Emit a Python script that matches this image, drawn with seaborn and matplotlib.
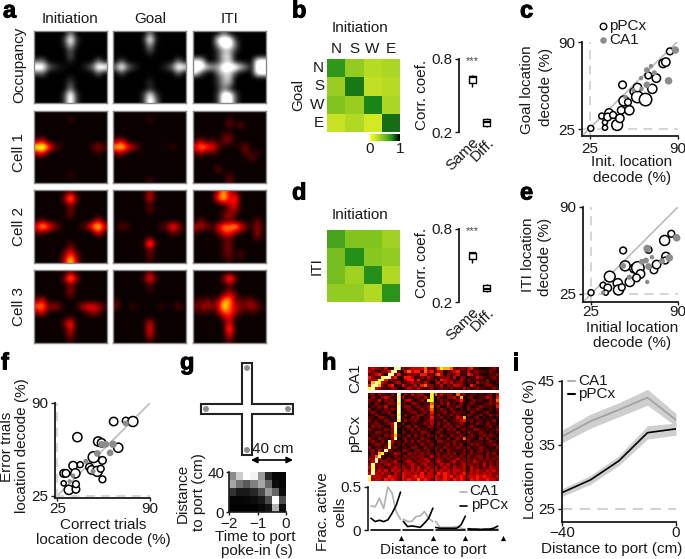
import numpy as np
import pandas as pd
import matplotlib
matplotlib.use("Agg")
import matplotlib.pyplot as plt
import matplotlib.patheffects as pe
from matplotlib.colors import LinearSegmentedColormap
import seaborn as sns

W, H = 685, 559

# panel a, spatial maps (digit = intensity level)
occ_init = ["0000005000000", "0000039300000", "0000027200000", "0000004000000", "0000004000000", "4500002000050",
            "9953210013599", "4500000000050", "0000002000000", "0000004000000", "0000005000000", "0000039300000", "0000039300000"]
occ_goal = ["0000005000000", "0000029200000", "0000006000000", "0000004000000", "0000001000000", "0400000000050",
            "5953100013598", "0400000000050", "0000001000000", "0000003000000", "0000002000000", "0000038300000", "0000039500000"]
occ_iti = ["0000050000000", "0000899300000", "0000699500000", "0000366300000", "0000377000000", "8800367200099",
           "9976699975099", "8400577400099", "0000367000000", "0000366000000", "0000252000000", "0000399400000", "0000399400000"]
c1_init = ["0000000000000", "0000002000000", "0000000000000", "0000000000000", "0000000000000", "3500000000000",
           "8973200000242", "4600000000020", "0000000000000", "0000000000000", "0000000000000", "0000002000000", "0000000000000"]
c1_goal = ["0000000000000", "0000002000000", "0000000000000", "0000000000000", "0000000000000", "3500000000000",
           "7864200000200", "3400000000000", "0000000000000", "0000000000000", "0000000000000", "0000000000000", "0000002000000"]
c1_iti = ["0000000000000", "0000002000000", "0000003030000", "0000000000000", "0000023000000", "2403033000000",
          "5765300023000", "2403000003020", "0000000000300", "0000000000000", "0000300000000", "0000002000000", "0000003000000"]
c2_init = ["0000003000000", "0000038300000", "0000004000000", "0000003000000", "0000003000000", "0300000000050",
           "5864200023785", "2300000000060", "0000000000000", "0000002000000", "0000004000000", "0000036300000", "0000048400000"]
c2_goal = ["0000004000000", "0000005000000", "0000002000000", "0000003000000", "0000000000000", "0000000000000",
           "0320000023640", "0000000000320", "0000001000000", "0000008000000", "0000003000000", "0000003000000", "0000002000000"]
c2_iti = ["0000474300000", "0000684600000", "0000024500000", "0000003400000", "0000034200000", "0300003000030",
          "4432476853040", "2000356320040", "0000023000030", "0000023000000", "0000023000000", "0000023030000", "0000002000000"]
c3_init = ["0000003000000", "0000038400000", "0000003000000", "0000004000000", "0000003000000", "3500000000000",
           "6734300045542", "3500000002430", "0000002000000", "0000036000000", "0000005000000", "0000004000000", "0000002000000"]
c3_goal = ["0000003000000", "0000026200000", "0000002000000", "0000002000000", "0000000000000", "2000000000000",
           "3002000020030", "0000000000000", "0000001000000", "0000005000000", "0000005000000", "0000005000000", "0000002000000"]
c3_iti = ["0000000000000", "0000037300000", "0000003000000", "0000003000000", "0000035300000", "2232377323300",
          "3343486433431", "1220366421210", "0000035000000", "0000005000000", "0000007000000", "0000005000000", "0000003000000"]

# panels b, d: location correlation
ports = ["N", "S", "W", "E"]
corr_goal = [[0.68, 0.38, 0.26, 0.30], [0.36, 0.78, 0.22, 0.26], [0.44, 0.36, 0.76, 0.30], [0.20, 0.28, 0.16, 0.80]]
corr_iti = [[0.62, 0.44, 0.44, 0.34], [0.48, 0.72, 0.42, 0.38], [0.48, 0.34, 0.72, 0.28], [0.38, 0.38, 0.28, 0.70]]
same_goal = [0.57, 0.60, 0.655, 0.66, 0.665]
diff_goal = [0.24, 0.25, 0.28, 0.307, 0.315]
same_iti = [0.524, 0.557, 0.60, 0.605, 0.61]
diff_iti = [0.28, 0.289, 0.31, 0.338, 0.345]

# panel c
c_pc_x = [25.5, 36, 36, 33.6, 39, 38, 45, 47, 48, 42, 54, 50, 53, 49, 57, 60, 66, 60, 71, 68, 74, 79, 81, 84]
c_pc_y = [25.5, 26, 30, 34.7, 37, 34, 28, 33, 39, 35.5, 39, 46, 45, 58, 53, 49, 47, 56, 55, 65, 63, 74, 75, 83]
c_pc_n = [49, 36, 36, 49, 100, 81, 169, 100, 81, 64, 121, 144, 64, 81, 64, 196, 225, 100, 121, 64, 100, 100, 100, 64]
c_ca_x = [88, 83, 70, 67, 72.5, 62.7, 67, 63, 57, 51]
c_ca_y = [84, 61, 72, 69, 67, 63, 58, 55, 54, 49]
c_ca_n = [81, 81, 25, 49, 36, 25, 64, 25, 25, 25]

# panel e
e_pc_x = [25, 34, 37.5, 36, 39, 45, 45.5, 48, 54, 50.5, 57, 49, 60, 62, 59, 68, 72, 74, 80, 85, 81, 80.5]
e_pc_y = [26, 31.5, 29.5, 26, 38, 33, 28, 30, 34, 46, 44, 57.5, 44.5, 40, 37, 58, 43, 47, 65, 70, 53, 50]
e_pc_n = [49, 49, 81, 36, 169, 121, 144, 64, 121, 144, 100, 64, 225, 100, 81, 64, 81, 100, 144, 64, 100, 64]
e_ca_x = [89, 67, 83.5, 78, 70.5, 66, 63, 68, 67, 53.5, 49, 34]
e_ca_y = [67, 59, 52, 49.5, 52.5, 50, 49, 45.5, 34, 37.5, 46, 26]
e_ca_n = [81, 81, 81, 49, 25, 49, 49, 64, 25, 36, 49, 25]

# panel f
f_pc_x = [39, 64.5, 73, 78, 67.7, 53.6, 56, 50.4, 56.6, 56.6, 47.5, 49, 53, 55.4, 36, 41, 29.4, 31, 37.6, 29.4, 33, 38, 38]
f_pc_y = [66, 77, 77.6, 77, 58.6, 63, 62, 52, 49.7, 36.4, 45, 43, 42, 43.8, 46, 46.7, 40.6, 40.6, 40.6, 33.6, 29, 29.4, 33]
f_pc_n = [121, 100, 64, 144, 121, 121, 100, 169, 81, 64, 81, 100, 144, 64, 100, 49, 81, 81, 121, 36, 121, 81, 64]
f_ca_x = [73, 56, 59, 64, 62, 53, 45, 50, 33.6, 36]
f_ca_y = [75.6, 61, 61, 61, 55, 54.6, 49, 42, 35, 39]
f_ca_n = [49, 64, 64, 81, 64, 64, 36, 36, 25, 25]

# panel g
g_heat = [[0.55, 0.80, 1.00, 0.95, 0.60, 0.15, 0.02, 0.02],
          [0.65, 0.45, 0.35, 0.50, 0.65, 0.40, 0.05, 0.02],
          [0.20, 0.10, 0.10, 0.15, 0.30, 0.60, 0.40, 0.05],
          [0.02, 0.02, 0.03, 0.05, 0.10, 0.30, 1.00, 0.30],
          [0.00, 0.00, 0.00, 0.00, 0.03, 0.08, 0.70, 0.05]]

# panel h raster (digit = activity level)
raster_ca1 = ["3433241299423444463346877632334522111232",
              "4321335992146455264534412345224133221321",
              "2345319925223332552356413234125423111223",
              "5322899451255412324322333241331224321232",
              "4348952322135525123241543312423122213122",
              "2798431234223433242134243423322214223112",
              "5997324512532341563332413244321532123321",
              "8943222331124324222312322312143123221132"]
raster_pc = ["2313221319231423321862423316331221212314",
             "1321343229412123242813213342712311224315",
             "3224132319134212318812322123521232211326",
             "2132123328221332122621324121312321122324",
             "1223241219233123223723113223213112322215",
             "3122132329123212323612321321213223211213",
             "2321223119212331231512231232221321123112",
             "1132112328132123312423122313123212312323",
             "2213321219221323122522312124372123121212",
             "3121232128132232123412131223452312212131",
             "2232123491311221232413223122321213213221",
             "1323211492123132113322132313222321122312",
             "3212132391212313221212313231232133212123",
             "2133221381321221332123212223123212321212",
             "1222132472213132213231321322312321232321",
             "3213221391231221322132213123263211313212",
             "2321319422132313223213322232123122212321",
             "1233228312312221322312223132312323212232",
             "3122139231221332132232132223223122321213",
             "2314293212332123223132313222132312322122",
             "1327821243213232323223123231232322213231",
             "2369212132232323322423232322323223313223",
             "3394223223323232343233323234233232323232",
             "2492332342234323334234322342333243232323",
             "3933234233323432342323434232343323242323",
             "4823322343432434234342343243342433232433",
             "3934342434343434343443434344342434334343",
             "4943433243544343524435454343453434343433",
             "9444335443543454544454354534544445454434",
             "8344354543545446454354454354543545445443"]
n_bins = 8
frac_ca1 = [[0.28, 0.27, 0.37, 0.25, 0.50, 0.43, 0.21, 0.125],
            [0.125, 0.10, 0.10, 0.156, 0.164, 0.215, 0.137, 0.098],
            [0.10, 0.03, 0.03, 0.03, 0.03, 0.04, 0.02, 0.01],
            [0.01, 0.01, 0.01, 0.01, 0.01, 0.01, 0.01, 0.01]]
frac_pc = [[0.137, 0.098, 0.113, 0.098, 0.117, 0.195, 0.29, 0.44],
           [0.10, 0.04, 0.047, 0.04, 0.03, 0.08, 0.137, 0.254],
           [0.03, 0.02, 0.02, 0.02, 0.02, 0.02, 0.06, 0.16],
           [0.015, 0.01, 0.01, 0.005, 0.01, 0.01, 0.02, 0.045]]

# panel i
dist = [-40, -30, -20, -10, 0]
i_ca1 = [36.3, 38.7, 40.5, 42.4, 38.9]
i_ca1_lo = [35.3, 37.6, 39.4, 41.2, 37.9]
i_ca1_hi = [37.3, 39.8, 41.6, 43.7, 39.9]
i_pc = [27.5, 29.5, 32.5, 36.9, 37.5]
i_pc_lo = [26.9, 28.8, 31.8, 35.9, 36.5]
i_pc_hi = [28.1, 30.2, 33.3, 38.0, 38.4]

GREY = "#8c8c8c"
DASH = "#d2d2d2"
INK = "#1a1a1a"

sns.set_theme(style="ticks")
plt.rcParams["font.family"] = ["Liberation Sans", "DejaVu Sans"]
plt.rcParams["font.size"] = 11
plt.rcParams["text.color"] = INK
plt.rcParams["axes.edgecolor"] = INK
plt.rcParams["xtick.color"] = INK
plt.rcParams["ytick.color"] = INK

fig = plt.figure(figsize=(W / 100, H / 100), dpi=100)


def axpx(x0, y0, x1, y1):
    return fig.add_axes([x0 / W, 1 - y1 / H, (x1 - x0) / W, (y1 - y0) / H])


def label(x, y, s, **kw):
    kw.setdefault("ha", "center")
    kw.setdefault("va", "center")
    kw.setdefault("fontsize", 11)
    return fig.text(x / W, 1 - y / H, s, **kw)


def digits(rows, gamma):
    return (np.array([[int(c) for c in r] for r in rows]) / 9) ** gamma


def style_axis(ax, lw=1.3):
    sns.despine(ax=ax)
    for side in ("left", "bottom"):
        ax.spines[side].set_linewidth(lw)


# a
map_cols = [(34, 107), (113, 186), (193, 266)]
map_rows = [(31, 103), (111, 183), (190, 263), (270, 343)]
map_sets = [[occ_init, occ_goal, occ_iti], [c1_init, c1_goal, c1_iti],
            [c2_init, c2_goal, c2_iti], [c3_init, c3_goal, c3_iti]]
for r, (y0, y1) in enumerate(map_rows):
    for c, (x0, x1) in enumerate(map_cols):
        ax = axpx(x0, y0, x1, y1)
        ax.imshow(digits(map_sets[r][c], 1.6), cmap="gray" if r == 0 else "hot",
                  vmin=0, vmax=0.75 if r == 0 else 1, interpolation="bicubic", aspect="auto")
        ax.set_xticks([])
        ax.set_yticks([])
        for s in ax.spines.values():
            s.set_color("#8a8a8a")
            s.set_linewidth(1)
for x, s in zip((70, 150, 230), ("Initiation", "Goal", "ITI")):
    label(x, 19, s)
for y, s in zip((65, 152, 227, 307), ("Occupancy", "Cell 1", "Cell 2", "Cell 3")):
    label(19, y, s, rotation=90)

# b, d
corr_cmap = LinearSegmentedColormap.from_list(
    "corr", [(0, "#ffff20"), (0.25, "#b9dc23"), (0.45, "#7fc31e"), (0.75, "#1a8a18"), (1, "#000000")])

ax = axpx(327, 59, 400, 132)
cax = axpx(370, 134, 400, 141)
sns.heatmap(corr_goal, ax=ax, cmap=corr_cmap, vmin=0, vmax=1, xticklabels=ports, yticklabels=ports,
            cbar_ax=cax, cbar_kws={"orientation": "horizontal", "ticks": [0, 1]})
ax.xaxis.tick_top()
ax.tick_params(length=0, pad=2, labelsize=11)
ax.tick_params(axis="y", rotation=0)
cax.tick_params(length=0, pad=1, labelsize=11)
label(360, 28, "Initiation")
label(298, 95, "Goal", rotation=90)

ax = axpx(327, 230, 400, 302)
sns.heatmap(corr_iti, ax=ax, cmap=corr_cmap, vmin=0, vmax=1, xticklabels=False, yticklabels=False, cbar=False)
label(360, 215, "Initiation")
label(317, 266, "ITI", rotation=90)


def corr_box(y0, y1, same, diff):
    ax = axpx(459, y0, 497, y1)
    df = pd.DataFrame({"group": ["Same"] * 5 + ["Diff."] * 5, "coef": same + diff})
    sns.boxplot(data=df, x="group", y="coef", ax=ax, whis=10, width=0.47, fill=False,
                color="black", linewidth=1, showfliers=False, showcaps=False,
                medianprops={"linewidth": 1.6})
    ax.set_xlim(-0.87, 1.67)
    ax.set_ylim(0.2, 0.8)
    ax.set_yticks([0.2, 0.8], ["0.2", "0.8"])
    ax.set_xlabel("")
    ax.set_ylabel("")
    ax.spines["bottom"].set_visible(False)
    ax.spines["top"].set_visible(False)
    ax.spines["right"].set_visible(False)
    ax.spines["left"].set_linewidth(1.3)
    ax.tick_params(axis="y", length=3, width=1, pad=2, labelsize=11)
    ax.tick_params(axis="x", length=0, pad=2, labelsize=11)
    plt.setp(ax.get_xticklabels(), rotation=45, ha="right", rotation_mode="anchor")
    ax.patch.set_alpha(0)
    label(472, y0 + 2, "***", fontsize=8, color="#444444")


corr_box(59, 132, same_goal, diff_goal)
corr_box(229, 302, same_iti, diff_iti)
label(422, 95, "Corr. coef.", rotation=90)
label(422, 263, "Corr. coef.", rotation=90)


# c, e, f
def decode_scatter(box, lo_x, lo_y, pc, ca, xpad):
    ax = axpx(*box)
    ax.plot([lo_x, 90], [lo_y, lo_y + 90 - lo_x], color="#bdbdbd", lw=1.2, zorder=1)
    ax.axhline(25, color=DASH, lw=1.3, ls=(0, (5, 3.5)), zorder=1)
    ax.axvline(25, color=DASH, lw=1.3, ls=(0, (5, 3.5)), zorder=1)
    sns.scatterplot(x=pc[0], y=pc[1], size=pc[2], sizes=(10, 80), size_norm=(25, 225), color="white",
                    edgecolor="black", linewidth=1.1, legend=False, ax=ax, clip_on=False, zorder=3)
    sns.scatterplot(x=ca[0], y=ca[1], size=ca[2], sizes=(10, 80), size_norm=(25, 225), color=GREY,
                    edgecolor="none", linewidth=0, legend=False, ax=ax, clip_on=False, zorder=4)
    ax.set_xlim(lo_x, 90)
    ax.set_ylim(lo_y, 90)
    ax.set_xticks([25, 90])
    ax.set_yticks([25, 90])
    ax.tick_params(axis="y", length=3, width=1, pad=2, labelsize=11)
    ax.tick_params(axis="x", length=2.5, width=1, pad=xpad, labelsize=11)
    style_axis(ax)
    return ax


decode_scatter((582, 42, 678, 136), 19, 19.8, (c_pc_x, c_pc_y, c_pc_n), (c_ca_x, c_ca_y, c_ca_n), 2)
decode_scatter((583, 207, 678, 302), 19, 19, (e_pc_x, e_pc_y, e_pc_n), (e_ca_x, e_ca_y, e_ca_n), 0)
decode_scatter((55, 403, 150, 498), 23.3, 23.3, (f_pc_x, f_pc_y, f_pc_n), (f_ca_x, f_ca_y, f_ca_n), 0.5)

label(527, 90, "Goal location", rotation=90)
label(546, 87, "decode (%)", rotation=90)
label(632, 162, "Init. location")
label(632, 178, "decode (%)")
label(528, 255, "ITI location", rotation=90)
label(545, 257, "decode (%)", rotation=90)
label(632, 328, "Initial location")
label(632, 343, "decode (%)")
label(7, 447, "Error trials", rotation=90)
label(22, 446, "location decode (%)", rotation=90)
label(103, 525, "Correct trials")
label(103, 540, "location decode (%)")

# g
ax = axpx(197, 359, 297, 459)
ax.set_xlim(-50, 50)
ax.set_ylim(50, -50)
ax.axis("off")
arm, half = 46, 5
cross_x = [-half, half, half, arm, arm, half, half, -half, -half, -arm, -arm, -half, -half]
cross_y = [-arm, -arm, -half, -half, half, half, arm, arm, half, half, -half, -half, -arm]
ax.fill(cross_x, cross_y, facecolor="white", edgecolor="#222222", lw=1.5, clip_on=False)
port_at = 41
sns.scatterplot(x=[0, -port_at, port_at, 0], y=[-port_at, 0, 0, port_at], color=GREY, s=18,
                edgecolor="none", legend=False, ax=ax, clip_on=False)

ax = axpx(229, 472, 286, 512)
sns.heatmap(g_heat, ax=ax, cmap="gray", vmin=0, vmax=1, cbar=False, xticklabels=False, yticklabels=False)
ax.set_xlim(0, 8)
ax.set_ylim(5, 0)
ax.set_xticks([0, 4, 8], ["\u22122", "\u22121", "0"])
ax.set_yticks([0, 5], ["40", "0"])
ax.tick_params(length=2.5, width=1, pad=1, labelsize=11, rotation=0)
for side in ("left", "bottom"):
    ax.spines[side].set_visible(True)
    ax.spines[side].set_linewidth(1.2)
label(183, 493, "Distance", rotation=90)
label(199, 492, "to port (cm)", rotation=90)
label(255, 537, "Time to port")
label(257, 551, "poke-in (s)")
label(273, 449, "40 cm")
fig.add_artist(plt.Annotation("", xy=(293 / W, 1 - 460 / H), xytext=(251 / W, 1 - 460 / H), xycoords="figure fraction",
                              textcoords="figure fraction",
                              arrowprops=dict(arrowstyle="<|-|>", color="black", lw=1.2, shrinkA=0, shrinkB=0, mutation_scale=9)))

# h
for box, rows in (((368, 367, 499, 390), raster_ca1), ((368, 393, 499, 481), raster_pc)):
    ax = axpx(*box)
    sns.heatmap(digits(rows, 1.45), ax=ax, cmap="hot", vmin=0, vmax=1.1, cbar=False, xticklabels=False, yticklabels=False)
    ax.vlines([10, 20, 30], 0, len(rows), color="black", lw=1)
label(355, 378, "CA1", rotation=90)
label(355, 433, "pPCx", rotation=90)

ax = axpx(368, 487, 503, 530)
seg_step = 7.68
for k in range(4):
    xs = np.arange(n_bins) + k * seg_step + 0.7
    sns.lineplot(x=xs, y=frac_ca1[k], color="#b0b0b0", lw=1.2, ax=ax, errorbar=None, clip_on=False)
    sns.lineplot(x=xs, y=frac_pc[k], color="black", lw=1.2, ax=ax, errorbar=None, clip_on=False)
    ax.plot(xs[[0, -1]], [0, 0], color="black", lw=1.2, clip_on=False)
ax.set_xlim(0, 32)
ax.set_ylim(0, 0.5)
ax.set_yticks([0, 0.5], ["0", "0.5"])
ax.set_xticks([])
ax.spines["bottom"].set_visible(False)
ax.spines["top"].set_visible(False)
ax.spines["right"].set_visible(False)
ax.spines["left"].set_linewidth(1.2)
ax.tick_params(axis="y", length=3, width=1, pad=2, labelsize=11)
ax.patch.set_alpha(0)
label(323, 512, "Frac. active", rotation=90)
label(340, 512, "cells", rotation=90)
label(433, 550, "Distance to port")
label(469, 491, "CA1", ha="left")
label(471, 505, "pPCx", ha="left")

# i
ax = axpx(562, 381, 676, 522)
ax.fill_between(dist, i_ca1_lo, i_ca1_hi, color="#cfcfcf", lw=0)
ax.fill_between(dist, i_pc_lo, i_pc_hi, color="#cfcfcf", lw=0)
ax.axhline(25, color=DASH, lw=1.5, ls=(0, (5, 3.5)))
sns.lineplot(x=dist, y=i_ca1, color="#a0a0a0", lw=1.2, ax=ax, errorbar=None)
sns.lineplot(x=dist, y=i_pc, color="black", lw=1.2, ax=ax, errorbar=None)
ax.set_xlim(-40, 0)
ax.set_ylim(22.9, 45)
ax.set_xticks([-40, 0], ["\u221240", "0"])
ax.set_yticks([25, 35, 45])
ax.tick_params(axis="y", length=3, width=1, pad=2, labelsize=11)
ax.tick_params(axis="x", length=3, width=1, pad=0, labelsize=11)
style_axis(ax)
label(530, 449, "Location decode (%)", rotation=90)
label(612, 549, "Distance to port (cm)")
label(578, 381, "CA1", ha="left")
label(578, 394, "pPCx", ha="left")

# overlay: legend keys, port markers
ov = fig.add_axes([0, 0, 1, 1])
ov.set_xlim(0, W)
ov.set_ylim(H, 0)
ov.axis("off")
ov.patch.set_alpha(0)
ov.scatter([603], [26], s=22, facecolor="white", edgecolor="black", linewidth=1)
ov.scatter([603], [40], s=22, color=GREY, linewidth=0)
label(609, 26, "pPCx", ha="left")
label(609, 40, "CA1", ha="left")
ov.plot([460, 467], [492, 492], color="#b0b0b0", lw=1.2)
ov.plot([460, 467], [506, 506], color="black", lw=1.2)
ov.plot([568, 575], [381, 381], color="#b0b0b0", lw=1.5)
ov.plot([568, 575], [394, 394], color="black", lw=1.5)
ov.scatter([401, 433, 465, 503], [538, 538, 538, 538], marker="^", s=14, color="black", linewidth=0)

# panel letters
for x, y, s in ((3, 11, "a"), (292, 11, "b"), (520, 11, "c"), (292, 193, "d"), (520, 193, "e"),
                (1, 363, "f"), (180, 363, "g"), (322, 363, "h"), (512, 363, "i")):
    t = label(x, y, s, ha="left", fontsize=17, fontweight="bold", color="black")
    t.set_path_effects([pe.withStroke(linewidth=0.7, foreground="black")])

fig.savefig("out.png", dpi=100)
